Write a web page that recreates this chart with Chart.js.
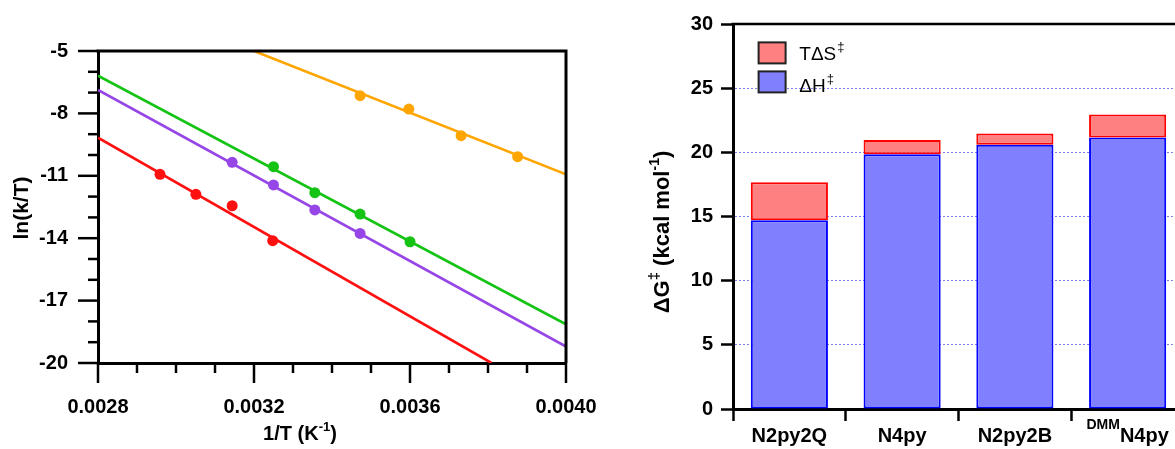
<!DOCTYPE html>
<html><head><meta charset="utf-8">
<script src="https://cdn.jsdelivr.net/npm/chart.js@4.4.1/dist/chart.umd.min.js"></script>
<style>
html,body{margin:0;padding:0;background:#fff;overflow:hidden;}
#wrap{position:relative;width:1175px;height:449px;overflow:hidden;background:#fff;}
#c1{position:absolute;left:0;top:0;}
#c2{position:absolute;left:620px;top:0;}
</style></head><body>
<div id="wrap"><canvas id="c1" width="620" height="449"></canvas><canvas id="c2" width="600" height="449"></canvas></div>
<script>
// ---------- Eyring plot data ----------
const invT_orange = [0.003472, 0.003597, 0.003731, 0.003876];
const lnkT_orange = [-7.15, -7.79, -9.07, -10.08];
const invT_green = [0.003250, 0.003356, 0.003472, 0.003600];
const lnkT_green = [-10.56, -11.81, -12.84, -14.17];
const invT_purple = [0.003144, 0.003250, 0.003356, 0.003472];
const lnkT_purple = [-10.35, -11.44, -12.64, -13.77];
const invT_red = [0.002959, 0.003051, 0.003144, 0.003248];
const lnkT_red = [-10.93, -11.89, -12.44, -14.12];
// fitted lines: end points as seen in the picture
const fitX_orange = [0.0032, 0.0040];
const fitY_orange = [-5.0, -10.93];
const fitX_green = [0.0028, 0.0040];
const fitY_green = [-6.19, -18.14];
const fitX_purple = [0.0028, 0.0040];
const fitY_purple = [-6.875, -19.21];
const fitX_red = [0.0028, 0.003809];
const fitY_red = [-9.17, -20.0];
const xTickLabels = ['0.0028', '0.0032', '0.0036', '0.0040'];
const yTickLabels = ['-20', '-17', '-14', '-11', '-8', '-5'];

// ---------- Activation parameter data ----------
const categories = ['N2py2Q', 'N4py', 'N2py2B', 'DMMN4py'];
const catSup = ['', '', '', 'DMM'];
const catMain = ['N2py2Q', 'N4py', 'N2py2B', 'N4py'];
const dH = [14.70, 19.86, 20.60, 21.15];
const TdS = [2.96, 1.11, 0.86, 1.79];
const barTickLabels = ['0', '5', '10', '15', '20', '25', '30'];
const legendLabels = ['T\u0394S', '\u0394H'];

const FAM = "'Liberation Sans', Arial, sans-serif";
const C = {orange:'#FFA500', green:'#14C314', purple:'#9646E6', red:'#FF1010'};

function drawRich(ctx, parts, cx, cy, rot) {
  ctx.save();
  ctx.translate(cx, cy);
  if (rot) ctx.rotate(rot);
  let total = 0;
  parts.forEach(p => { ctx.font = p.f; p.w = ctx.measureText(p.t).width; total += p.w; });
  let x = -total / 2;
  ctx.textBaseline = 'alphabetic'; ctx.textAlign = 'left'; ctx.fillStyle = '#000';
  parts.forEach(p => { ctx.font = p.f; ctx.fillText(p.t, x, p.dy || 0); x += p.w; });
  ctx.restore();
}
const B20 = 'bold 20px ' + FAM, B13 = 'bold 13px ' + FAM;

const pts = (xs, ys) => xs.map((x, i) => ({x: x, y: ys[i]}));
const ptDS = (xs, ys, c) => ({data: pts(xs, ys), backgroundColor: c, borderColor: c, borderWidth: 0,
  pointRadius: 5.5, pointHoverRadius: 5.5, showLine: false});
const lnDS = (xs, ys, c) => ({data: pts(xs, ys), borderColor: c, backgroundColor: c, borderWidth: 2.6,
  pointRadius: 0, pointHoverRadius: 0, showLine: true, fill: false, tension: 0});

const leftPlugin = {
  id: 'leftDeco',
  afterDraw(chart) {
    const ctx = chart.ctx, a = chart.chartArea;
    const xs = chart.scales.x, ys = chart.scales.y;
    ctx.save();
    ctx.strokeStyle = '#000'; ctx.lineCap = 'butt';
    ctx.lineWidth = 3;
    ctx.beginPath();
    ctx.moveTo(a.left - 1.5, a.top); ctx.lineTo(a.right, a.top); ctx.lineTo(a.right, a.bottom);
    ctx.stroke();
    ctx.lineWidth = 2.5;
    xs.ticks.forEach(t => {
      const px = xs.getPixelForValue(t.value);
      const len = t.label !== '' ? 20 : 10;
      ctx.beginPath(); ctx.moveTo(px, a.bottom); ctx.lineTo(px, a.bottom + len); ctx.stroke();
    });
    ys.ticks.forEach(t => {
      const py = ys.getPixelForValue(t.value);
      const len = t.label !== '' ? 20 : 10;
      ctx.beginPath(); ctx.moveTo(a.left, py); ctx.lineTo(a.left - len, py); ctx.stroke();
    });
    ctx.restore();
    drawRich(ctx, [{t: 'ln(k/T)', f: 'bold 21px ' + FAM}], 28, (a.top + a.bottom) / 2 + 1, -Math.PI / 2);
    drawRich(ctx, [{t: '1/T (K', f: B20}, {t: '-1', f: B13, dy: -9}, {t: ')', f: B20}], 300, 440, 0);
  }
};

new Chart(document.getElementById('c1'), {
  type: 'scatter',
  data: {datasets: [
    ptDS(invT_orange, lnkT_orange, C.orange),
    ptDS(invT_green, lnkT_green, C.green),
    ptDS(invT_purple, lnkT_purple, C.purple),
    ptDS(invT_red, lnkT_red, C.red),
    lnDS(fitX_orange, fitY_orange, C.orange),
    lnDS(fitX_green, fitY_green, C.green),
    lnDS(fitX_purple, fitY_purple, C.purple),
    lnDS(fitX_red, fitY_red, C.red)
  ]},
  options: {
    responsive: false, animation: false, devicePixelRatio: 1,
    layout: {padding: {left: 0, top: 51, right: 54, bottom: 26}},
    plugins: {legend: {display: false}, tooltip: {enabled: false}},
    scales: {
      x: {type: 'linear', min: 0.0028, max: 0.0040,
        ticks: {stepSize: 0.0001, autoSkip: false, maxRotation: 0, minRotation: 0, padding: 12,
          color: '#000', font: {family: FAM, size: 20, weight: 'bold'},
          callback: (v) => { const k = (v - 0.0028) / 0.0004; const r = Math.round(k);
            return Math.abs(k - r) < 1e-6 ? xTickLabels[r] : ''; }},
        grid: {display: true, drawOnChartArea: false, drawTicks: true, tickLength: 20, tickColor: 'rgba(0,0,0,0)'},
        border: {display: true, color: '#000', width: 3},
        afterFit: s => { s.height = 60; }
      },
      y: {type: 'linear', min: -20, max: -5,
        ticks: {stepSize: 1, autoSkip: false, padding: 10, color: '#000',
          font: {family: FAM, size: 20, weight: 'bold'},
          callback: (v) => { const k = (v + 20) / 3; const r = Math.round(k);
            return Math.abs(k - r) < 1e-6 ? yTickLabels[r] : ''; }},
        grid: {display: true, drawOnChartArea: false, drawTicks: true, tickLength: 20, tickColor: 'rgba(0,0,0,0)'},
        border: {display: true, color: '#000', width: 3},
        afterFit: s => { s.width = 98; }
      }
    }
  },
  plugins: [leftPlugin]
});

const rightPlugin = {
  id: 'rightDeco',
  afterDraw(chart) {
    const ctx = chart.ctx, a = chart.chartArea, xs = chart.scales.x;
    ctx.save();
    ctx.strokeStyle = '#000'; ctx.lineWidth = 2.5;
    ctx.beginPath(); ctx.moveTo(a.left - 1.5, a.top); ctx.lineTo(a.right, a.top); ctx.stroke();
    // legend: upper stack first
    const order = [1, 0];
    order.forEach((di, k) => {
      const ds = chart.data.datasets[di];
      const bx = a.left + 25.6, by = a.top + 18.4 + k * 29;
      ctx.fillStyle = ds.backgroundColor; ctx.fillRect(bx, by, 27, 21);
      ctx.strokeStyle = '#222'; ctx.lineWidth = 2; ctx.strokeRect(bx, by, 27, 21);
    });
    ctx.fillStyle = '#000'; ctx.textBaseline = 'alphabetic'; ctx.textAlign = 'left';
    legendLabels.forEach((lab, k) => {
      const tx = a.left + 66.3, ty = a.top + 36.4 + k * 31.3;
      ctx.font = '19px ' + FAM; ctx.fillText(lab, tx, ty);
      const w = ctx.measureText(lab).width;
      ctx.font = '13px ' + FAM; ctx.fillText('\u2021', tx + w + 1, ty - 9);
    });
    ctx.restore();
    // category labels
    categories.forEach((c, i) => {
      const px = xs.getPixelForTick(i);
      const parts = [];
      if (catSup[i]) parts.push({t: catSup[i], f: 'bold 14px ' + FAM, dy: -13});
      parts.push({t: catMain[i], f: B20});
      drawRich(ctx, parts, px, 442, 0);
    });
    drawRich(ctx, [{t: '\u0394G', f: 'bold 22px ' + FAM}, {t: '\u2021', f: 'bold 15px ' + FAM, dy: -10},
      {t: ' (kcal mol', f: 'bold 22px ' + FAM}, {t: '-1', f: 'bold 14px ' + FAM, dy: -10},
      {t: ')', f: 'bold 22px ' + FAM}], 49, 232, -Math.PI / 2);
  }
};

new Chart(document.getElementById('c2'), {
  type: 'bar',
  data: {labels: categories, datasets: [
    {label: '\u0394H\u2021', data: dH, backgroundColor: '#8080FF', borderColor: '#0000FF', borderWidth: 2,
      borderSkipped: false, barPercentage: 0.684, categoryPercentage: 1},
    {label: 'T\u0394S\u2021', data: TdS, backgroundColor: '#FF8080', borderColor: '#FF0000', borderWidth: 2,
      borderSkipped: false, barPercentage: 0.684, categoryPercentage: 1}
  ]},
  options: {
    responsive: false, animation: false, devicePixelRatio: 1,
    layout: {padding: {left: 0, top: 24, right: 36, bottom: 0}},
    plugins: {legend: {display: false}, tooltip: {enabled: false}},
    scales: {
      x: {stacked: true,
        ticks: {display: false},
        grid: {display: true, offset: true, drawOnChartArea: false, drawTicks: true, tickLength: 12,
          tickColor: '#000', tickWidth: 2.5},
        border: {display: true, color: '#000', width: 3},
        afterFit: s => { s.height = 40; }
      },
      y: {stacked: true, min: 0, max: 30,
        ticks: {stepSize: 5, padding: 8, color: '#000', font: {family: FAM, size: 20, weight: 'bold'},
          callback: (v, i) => barTickLabels[i]},
        grid: {display: true, drawOnChartArea: true, drawTicks: true, tickLength: 12, tickColor: '#000', tickWidth: 2.5,
          lineWidth: 1,
          color: (c) => (c.tick && c.tick.value > 0 && c.tick.value < 30) ? '#7F7FF0' : 'rgba(0,0,0,0)'},
        border: {display: true, color: '#000', width: 3, dash: [2, 2]},
        afterFit: s => { s.width = 113; }
      }
    }
  },
  plugins: [rightPlugin]
});
</script>
</body></html>
